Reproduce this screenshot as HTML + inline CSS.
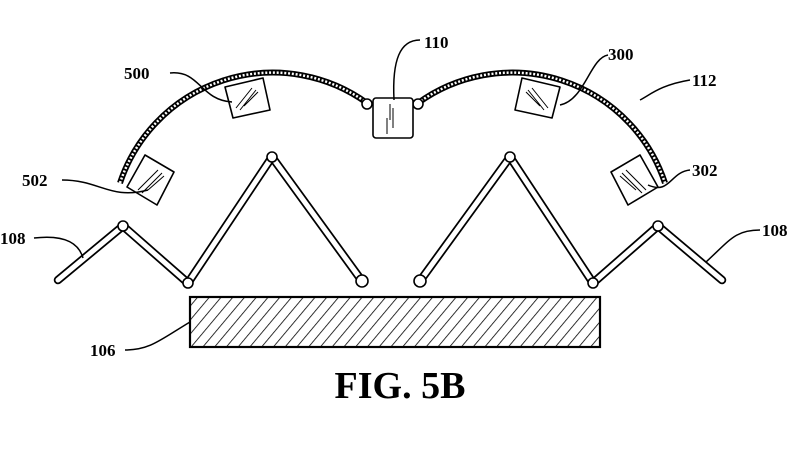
<!DOCTYPE html>
<html><head><meta charset="utf-8"><style>
html,body{margin:0;padding:0;background:#fff;}
svg{display:block}
text{font-family:"Liberation Serif",serif;font-weight:bold;fill:#000}
</style></head><body>
<svg width="800" height="451" viewBox="0 0 800 451" xmlns="http://www.w3.org/2000/svg">
<defs>
<pattern id="h" width="9" height="9" patternUnits="userSpaceOnUse" patternTransform="rotate(40)">
<line x1="0" y1="0" x2="0" y2="9" stroke="#000" stroke-width="1.6"/>
</pattern>
</defs>
<g fill="none" stroke="#000" stroke-linecap="butt">
<path d="M120,183 A161,161 0 0 1 367,103" stroke-width="6"/>
<path d="M120,183 A161,161 0 0 1 367,103" stroke="#fff" stroke-width="2.5" stroke-dasharray="2 1.8"/>
<path d="M418,103 A161,161 0 0 1 665,183" stroke-width="6"/>
<path d="M418,103 A161,161 0 0 1 665,183" stroke="#fff" stroke-width="2.5" stroke-dasharray="2 1.8"/>
</g>
<g fill="#fff" stroke="#000" stroke-width="1.6" stroke-linejoin="round">
<circle cx="367" cy="104" r="5"/>
<circle cx="418" cy="104" r="5"/>
<rect x="373" y="98" width="40" height="40" rx="3"/>
<polygon points="225,87 263,78 270,110 233,118"/>
<polygon points="560,87 522,78 515,110 552,118"/>
<polygon points="145,155 174,172 157,205 127,187"/>
<polygon points="640,155 611,172 628,205 658,187"/>
</g>
<g stroke="#000" stroke-width="1" fill="none">
<path d="M390,104 L390,120 M393,108 L393,128 M387,118 L387,134"/>
<path d="M236,108 L252,88 M240,110 L256,90 M244,106 L258,92"/>
<path d="M548,108 L532,88 M544,110 L528,90 M540,106 L526,92"/>
<path d="M138,190 L158,170 M142,193 L162,173 M148,190 L164,176"/>
<path d="M646,190 L626,170 M642,193 L622,173 M636,190 L620,176"/>
</g>
<!-- arms -->
<g fill="none" stroke-linecap="round" stroke-linejoin="round">
<path d="M58,280 L123,226 L188,283 L272,157 L362,281" stroke="#000" stroke-width="8.5"/>
<path d="M58,280 L123,226 L188,283 L272,157 L362,281" stroke="#fff" stroke-width="5"/>
<path d="M420,281 L510,157 L593,283 L658,226 L722,280" stroke="#000" stroke-width="8.5"/>
<path d="M420,281 L510,157 L593,283 L658,226 L722,280" stroke="#fff" stroke-width="5"/>
</g>
<g fill="#fff" stroke="#000" stroke-width="1.6">
<circle cx="123" cy="226" r="5"/><circle cx="188" cy="283" r="5"/>
<circle cx="272" cy="157" r="5"/><circle cx="362" cy="281" r="6"/>
<circle cx="420" cy="281" r="6"/><circle cx="510" cy="157" r="5"/>
<circle cx="593" cy="283" r="5"/><circle cx="658" cy="226" r="5"/>
</g>
<!-- substrate -->
<rect x="190" y="297" width="410" height="50" fill="url(#h)" stroke="#000" stroke-width="2.2"/>
<!-- leaders -->
<g fill="none" stroke="#000" stroke-width="1.5">
<path d="M420,40 C400,40 392,60 394,100"/>
<path d="M170,73 C200,70 200,100 232,102"/>
<path d="M608,55 C590,58 585,100 560,105"/>
<path d="M690,80 C660,85 650,95 640,100"/>
<path d="M62,180 C100,180 110,200 148,190"/>
<path d="M690,170 C670,172 670,195 648,185"/>
<path d="M34,238 C60,235 78,240 83,258"/>
<path d="M760,230 C735,230 730,240 706,262"/>
<path d="M125,350 C150,350 160,340 190,322"/>
</g>
<g font-size="17">
<text x="424" y="48">110</text>
<text x="124" y="79">500</text>
<text x="608" y="60">300</text>
<text x="692" y="86">112</text>
<text x="22" y="186">502</text>
<text x="692" y="176">302</text>
<text x="0" y="244">108</text>
<text x="762" y="236">108</text>
<text x="90" y="356">106</text>
</g>
<text x="400" y="398" font-size="38" text-anchor="middle">FIG.  5B</text>
</svg>
</body></html>
